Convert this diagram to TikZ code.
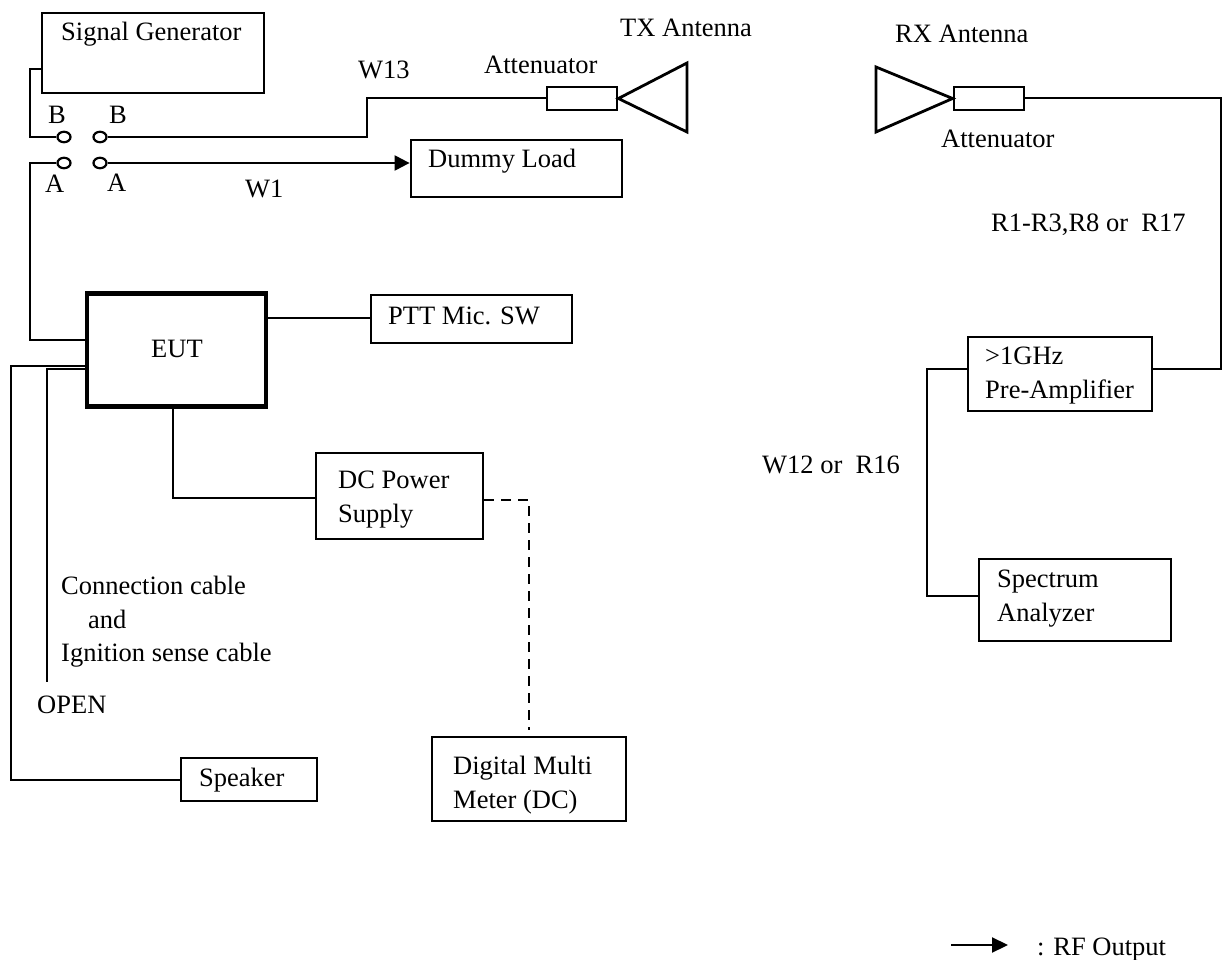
\documentclass[tikz,border=0pt]{standalone}
\usepackage{fontspec}
\setmainfont{Liberation Serif}
\usetikzlibrary{arrows.meta,shapes.geometric}
\tikzset{
	wire/.style={line width=2.2pt},
	box/.style={draw, line width=2.8pt, minimum width=#1, inner sep=0pt},
	contact/.style={draw, ellipse, line width=2.2pt, minimum width=13pt, minimum height=10.5pt, inner sep=0pt},
	txt/.style={inner sep=0pt, anchor=base west, align=left, font=\fontsize{26.5}{34}\selectfont}
}

\begin{document}
\begin{tikzpicture}[x=1pt, y=-1pt]
		%%%%% START %%%%%
		\useasboundingbox (0, 0) rectangle (1224, 960);
		
		% left boxes
		\node[box=222pt, minimum height=80pt] (siggen) at (153, 53) {};
		\node[box=211pt, minimum height=57pt] (dummy) at (516.5, 168.5) {};
		\node[box=179pt, minimum height=113pt, line width=4.8pt] (eut) at (176.5, 350) {};
		\node[box=201pt, minimum height=48pt] (ptt) at (471.5, 319) {};
		\node[box=167pt, minimum height=86pt] (dcpower) at (399.5, 496) {};
		\node[box=136pt, minimum height=43pt] (speaker) at (249, 779.5) {};
		\node[box=194pt, minimum height=84pt] (digital) at (529, 779) {};
		
		% right boxes
		\node[box=184pt, minimum height=74pt] (preamp) at (1060, 374) {};
		\node[box=192pt, minimum height=82pt] (spectrum) at (1075, 600) {};
		
		% attenuators
		\node[box=70pt, minimum height=23pt] (txatt) at (582, 98.5) {};
		\node[box=70pt, minimum height=23pt] (rxatt) at (989, 98.5) {};
		
		% contacts
		\node[contact] (bleft) at (64, 137) {};
		\node[contact] (bright) at (100, 137) {};
		\node[contact] (aleft) at (64, 163) {};
		\node[contact] (aright) at (100, 163) {};
		
		% free ends
		\coordinate (openend) at (47, 682);
		\coordinate (legstart) at (951, 945);
		\coordinate (legend) at (1008, 945);
		
		% antennas
		\draw[line width=2.8pt, line join=miter] (txatt.east) -- (687, 63) -- (687, 132) -- cycle;
		\draw[line width=2.8pt, line join=miter] (rxatt.west) -- (876, 67) -- (876, 132) -- cycle;
		
		% connectors
		\draw[wire] (siggen.west |- 0, 69) -- (30, 69) -- (30, 137) -- (bleft.west);
		\draw[wire] (bright.east) -- (367, 137) -- (367, 98) -- (txatt.west |- 0, 98);
		\draw[wire] (aleft.west) -- (30, 163) -- (30, 340) -- (eut.west |- 0, 340);
		\draw[wire, -{Triangle[length=15pt, width=15pt]}] (aright.east) -- (aright.east -| dummy.west);
		\draw[wire] (eut.east |- 0, 318) -- (ptt.west |- 0, 318);
		\draw[wire] (eut.west |- 0, 366) -- (11, 366) -- (11, 780) -- (speaker.west |- 0, 780);
		\draw[wire] (eut.west |- 0, 369) -- (47, 369) -- (openend);
		\draw[wire] (eut.south -| 173, 0) -- (173, 498) -- (dcpower.west |- 0, 498);
		\draw[wire, dash pattern=on 10pt off 7pt, shorten >=6pt] (dcpower.east |- 0, 500) -- (529, 500) -- (digital.north -| 529, 0);
		\draw[wire] (preamp.east |- 0, 369) -- (1221, 369) -- (1221, 98) -- (rxatt.east |- 0, 98);
		\draw[wire] (preamp.west |- 0, 369) -- (927, 369) -- (927, 596) -- (spectrum.west |- 0, 596);
		\draw[wire, -{Triangle[length=16pt, width=15pt]}] (legstart) -- (legend);
		
		% labels
		\node[txt] (siggentxt) at (61, 41) {Signal Generator};
		\node[txt] (dummytxt) at (428, 168) {Dummy Load};
		\node[txt] (euttxt) at (151, 357) {EUT};
		\node[txt] (ptttxt) at (388, 324) {PTT Mic. SW};
		\node[txt, anchor=north west] (dctxt) at (338, 470.5) {DC Power\\Supply};
		\node[txt] (speakertxt) at (199, 786) {Speaker};
		\node[txt, anchor=north west] (digitaltxt) at (453, 755.5) {Digital Multi\\Meter (DC)};
		\node[txt, anchor=north west] (preamptxt) at (985, 346.5) {>1GHz\\Pre-Amplifier};
		\node[txt, anchor=north west] (spectrumtxt) at (997, 569.5) {Spectrum\\Analyzer};
		
		\node[txt] (btxtl) at (48, 124) {B};
		\node[txt] (btxtr) at (109, 124) {B};
		\node[txt] (atxtl) at (45, 193) {A};
		\node[txt] (atxtr) at (107, 192) {A};
		\node[txt] (wthirteen) at (358, 79) {W13};
		\node[txt] (wone) at (245, 198) {W1};
		\node[txt] (txatttxt) at (484, 74) {Attenuator};
		\node[txt] (txanttxt) at (620, 37) {TX Antenna};
		\node[txt] (rxanttxt) at (895, 43) {RX Antenna};
		\node[txt] (rxatttxt) at (941, 148) {Attenuator};
		\node[txt] (rcables) at (991, 232) {R1-R3,R8 or\ \ R17};
		\node[txt] (wcables) at (762, 473) {W12 or\ \ R16};
		\node[txt] (conntxt) at (61, 594) {Connection cable};
		\node[txt] (andtxt) at (88, 628) {and};
		\node[txt] (igntxt) at (61, 661) {Ignition sense cable};
		\node[txt] (opentxt) at (37, 713) {OPEN};
		\node[txt] (legtxt) at (1037, 955) {: RF Output};
		%%%%% END %%%%%
	\end{tikzpicture}
\end{document}
